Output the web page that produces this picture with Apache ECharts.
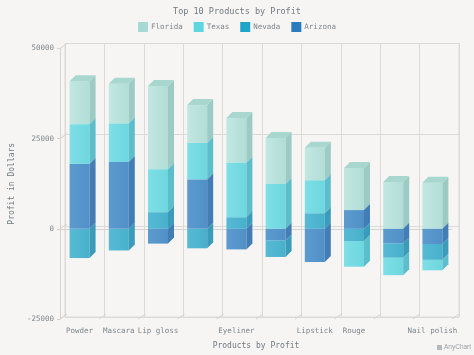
<!DOCTYPE html>
<html><head><meta charset="utf-8">
<script src="https://cdn.jsdelivr.net/npm/echarts@6/dist/echarts.min.js"></script>
<style>html,body{margin:0;padding:0;background:#f6f5f3}#c{width:474px;height:355px}</style>
</head><body><div id="c"></div>
<script>
const categories = ['Powder','Mascara','Lip gloss','Eyeshadows','Eyeliner','Foundation','Lipstick','Rouge','Eyebrow pencil','Nail polish'];
const hiddenLabels = [3, 5, 8];
const seriesNames = ['Florida','Texas','Nevada','Arizona'];
const florida = [11900, 11000, 23100, 10500, 12400, 12800, 9000, 11700, 13000, 12800];
const texas   = [11000, 10700, 11900, 10100, 15100, 12400, 9150, -7100, -4850, -2900];
const nevada  = [-8100, -6000, 4600, -5400, 3200, -4600, 4300, -3400, -4000, -4400];
const arizona = [18000, 18500, -4100, 13700, -5700, -3200, -9200, 5200, -4000, -4200];
const yTicks = [-25000, 0, 25000, 50000];

const FONT = 'DejaVu Sans Mono';
const values = {Florida: florida, Texas: texas, Nevada: nevada, Arizona: arizona};
const stackOrder = ['Arizona','Nevada','Texas','Florida'];
const styles = {
  Florida: {legend:'#a6dad3', front:['#c2e7e1','#b2ddd7'], side:'#9ccac4', top:'#a8d7d0'},
  Texas:   {legend:'#5fd5df', front:['#7fdfe6','#6dd6df'], side:'#5cbecb', top:'#68ccd6'},
  Nevada:  {legend:'#1fa5c8', front:['#56bad4','#48b0cc'], side:'#3a9bba', top:'#45aac7'},
  Arizona: {legend:'#2b7bbd', front:['#5d9bce','#5090c7'], side:'#427db5', top:'#4f8dc4'}
};

// build stacked segments
const segs = {}; seriesNames.forEach(n => segs[n] = []);
categories.forEach((c, i) => {
  let pos = 0, neg = 0, topName = null;
  stackOrder.forEach(n => {
    const v = values[n][i];
    if (v >= 0) { segs[n].push([i, pos, pos + v, 0]); pos += v; topName = n; }
    else { segs[n].push([i, neg, neg + v, 0]); neg += v; }
  });
  if (topName) segs[topName][i][3] = 1;
});

const BDX = 6, BDY = -6;   // bar depth
const WDX = 7, WDY = -5;   // wall depth

function barRender(name) {
  const st = styles[name];
  return function (params, api) {
    const i = api.value(0), a = api.value(1), b = api.value(2), isTop = api.value(3);
    if (a === b) return null;
    const w = api.size([1, 0])[0] * 0.51;
    const p0 = api.coord([i, a]), p1 = api.coord([i, b]);
    const x = p0[0] - w / 2;
    const yT = Math.min(p0[1], p1[1]), yB = Math.max(p0[1], p1[1]);
    const ch = [
      {type:'rect', shape:{x:x, y:yT, width:w, height:yB - yT},
       style:{fill:new echarts.graphic.LinearGradient(0,0,1,0,[{offset:0,color:st.front[0]},{offset:1,color:st.front[1]}])}},
      {type:'polygon', shape:{points:[[x+w,yT],[x+w+BDX,yT+BDY],[x+w+BDX,yB+BDY],[x+w,yB]]}, style:{fill:st.side}}
    ];
    if (isTop) ch.push({type:'polygon', shape:{points:[[x,yT],[x+BDX,yT+BDY],[x+w+BDX,yT+BDY],[x+w,yT]]}, style:{fill:st.top}});
    return {type:'group', children:ch};
  };
}

const decoData = yTicks.map(v => [0, v, 0]).concat(categories.map((c, i) => [i, 0, 1])).concat([[categories.length - 1, 0, 2]]);
function decoRender(params, api) {
  const cs = params.coordSys;
  const kind = api.value(2);
  let x, y;
  if (kind === 0) { x = cs.x; y = api.coord([0, api.value(1)])[1]; }
  else {
    const w = api.size([1, 0])[0];
    x = api.coord([api.value(0), 0])[0] + (kind === 1 ? -w / 2 : w / 2);
    y = cs.y + cs.height;
  }
  return {type:'line', shape:{x1:x, y1:y, x2:x + WDX, y2:y + WDY}, style:{stroke:'#d6d4d1', lineWidth:1}};
}

const series = seriesNames.map(n => ({
  name: n, type: 'custom', xAxisIndex: 0, yAxisIndex: 0,
  renderItem: barRender(n), data: segs[n], clip: false, z: 5,
  itemStyle: {color: styles[n].legend},
  encode: {x: 0, y: [1, 2]}
}));
series.push({type:'custom', xAxisIndex:0, yAxisIndex:0, renderItem:decoRender, data:decoData, z:1, silent:true, clip:false, encode:{x:0,y:1}});

const chart = echarts.init(document.getElementById('c'), null, {renderer:'canvas'});
chart.setOption({
  backgroundColor: '#f6f5f3',
  animation: false,
  title: {text:'Top 10 Products by Profit', left:'center', top:2,
    textStyle:{fontFamily:FONT, fontSize:8.5, fontWeight:'normal', color:'#6f7a82'}},
  legend: {data: seriesNames, top:17, left:'center', itemWidth:10, itemHeight:10, itemGap:11,
    icon:'rect', textStyle:{fontFamily:FONT, fontSize:7.5, color:'#7d868d', padding:[0,0,0,-2]}},
  grid: [
    {left:58, right:22, top:48.5, bottom:33},
    {left:65, right:15, top:43.5, bottom:38, show:true, borderColor:'#dcdad7', borderWidth:1, backgroundColor:'transparent'}
  ],
  xAxis: [
    {type:'category', data:categories, gridIndex:0,
     axisLine:{show:true, lineStyle:{color:'#d6d4d1'}}, axisTick:{show:false},
     axisLabel:{interval:(idx) => hiddenLabels.indexOf(idx) < 0, margin:8, fontFamily:FONT, fontSize:7.5, color:'#7d868d'},
     name:'Products by Profit', nameLocation:'middle', nameGap:23,
     nameTextStyle:{fontFamily:FONT, fontSize:8, color:'#6f7a82'}},
    {type:'category', data:categories, gridIndex:1,
     axisLine:{show:false}, axisTick:{show:false}, axisLabel:{show:false},
     splitLine:{show:true, interval:0, lineStyle:{color:'#dcdad7'}}}
  ],
  yAxis: [
    {type:'value', gridIndex:0, min:-25000, max:50000, interval:25000,
     axisLine:{show:true, lineStyle:{color:'#d6d4d1'}}, axisTick:{show:true, length:3, lineStyle:{color:'#d6d4d1'}},
     splitLine:{show:false},
     axisLabel:{margin:6, fontFamily:FONT, fontSize:7.5, color:'#7d868d', formatter:(v) => String(v)},
     name:'Profit in Dollars', nameLocation:'middle', nameGap:34, nameRotate:90,
     nameTextStyle:{fontFamily:FONT, fontSize:8, color:'#6f7a82'}},
    {type:'value', gridIndex:1, min:-25000, max:50000, interval:25000,
     axisLine:{show:false}, axisTick:{show:false}, axisLabel:{show:false},
     splitLine:{show:true, lineStyle:{color:'#dcdad7'}}}
  ],
  graphic: [
    {type:'rect', left:437, top:345, shape:{width:5, height:5}, style:{fill:'#b5b9bc'}},
    {type:'text', left:444, top:344, style:{text:'AnyChart', font:'6.5px Liberation Sans', fill:'#9aa1a6'}}
  ],
  series: series
});
</script></body></html>
